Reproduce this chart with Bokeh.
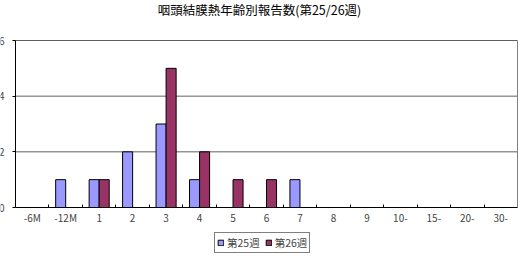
from bokeh.plotting import figure
from bokeh.models import ColumnDataSource, FixedTicker, Range1d, Legend, LegendItem, Label
from bokeh.embed import file_html
from bokeh.resources import INLINE

categories = ["-6M", "-12M", "1", "2", "3", "4", "5", "6", "7", "8", "9", "10-", "15-", "20-", "30-"]
week25 = [0, 1, 1, 2, 3, 1, 0, 0, 1, 0, 0, 0, 0, 0, 0]
week26 = [0, 0, 1, 0, 5, 2, 1, 1, 0, 0, 0, 0, 0, 0, 0]
series_names = ["第25週", "第26週"]
y_ticks = [0, 2, 4, 6]
title_text = "咽頭結膜熱年齢別報告数(第25/26週)"

FONT = "Noto Sans CJK JP"
W, H = 518, 261
n = len(categories)
ymax = y_ticks[-1]
centers = [i + 0.5 for i in range(n)]

# plot area in pixels: x 15..517, y 40..207 (from top)
px_left, px_right, px_top, px_bottom = 15, 517, 40, 207
sx = (px_right - px_left) / n
sy = (px_bottom - px_top) / ymax
x_range = Range1d(-px_left / sx, n + (W - px_right) / sx)
y_range = Range1d(-(H - px_bottom) / sy, ymax + px_top / sy)

p = figure(width=W, height=H, output_backend="svg", toolbar_location=None,
           x_range=x_range, y_range=y_range, min_border=0,
           min_border_left=0, min_border_right=0, min_border_top=0, min_border_bottom=0)
p.outline_line_color = None
p.xgrid.grid_line_color = None
p.ygrid.grid_line_color = None

# grid lines and right border of the plot area
p.segment(x0=[0] * len(y_ticks[1:]), x1=[n] * len(y_ticks[1:]), y0=y_ticks[1:], y1=y_ticks[1:],
          line_color="#606060", line_width=1)
p.segment(x0=[n], x1=[n], y0=[0], y1=[ymax], line_color="#808080", line_width=1)

def src(vals, shift):
    xs = [c + shift for c, v in zip(centers, vals) if v > 0]
    ys = [v for v in vals if v > 0]
    return ColumnDataSource(dict(x=xs, top=ys))

r25 = p.vbar(x="x", top="top", width=0.3, bottom=0, source=src(week25, -0.15),
             fill_color="#9999FF", line_color="black", line_width=1)
r26 = p.vbar(x="x", top="top", width=0.3, bottom=0, source=src(week26, 0.15),
             fill_color="#993366", line_color="black", line_width=1)

xa = p.xaxis[0]
xa.fixed_location = 0
xa.bounds = (0, n)
xa.ticker = FixedTicker(ticks=centers, minor_ticks=list(range(1, n)))
xa.major_label_overrides = {c: lab for c, lab in zip(centers, categories)}
xa.major_tick_in = 0
xa.major_tick_out = 0
xa.minor_tick_in = 3
xa.minor_tick_out = 0
xa.minor_tick_line_color = "black"
xa.axis_line_color = "black"
xa.major_label_text_font = FONT
xa.major_label_text_font_size = "10px"
xa.major_label_standoff = 2

ya = p.yaxis[0]
ya.fixed_location = 0
ya.bounds = (0, ymax)
ya.ticker = FixedTicker(ticks=y_ticks)
ya.major_tick_in = 0
ya.major_tick_out = 3
ya.minor_tick_line_color = None
ya.axis_line_color = "black"
ya.major_tick_line_color = "black"
ya.major_label_text_font = FONT
ya.major_label_text_font_size = "10px"
ya.major_label_standoff = 8

p.add_layout(Label(x=W / 2, y=H - 9, x_units="screen", y_units="screen", text=title_text,
                   text_font=FONT, text_font_size="12.5px", text_align="center",
                   text_baseline="middle", text_color="black"))

legend = Legend(items=[LegendItem(label=series_names[0], renderers=[r25]),
                       LegendItem(label=series_names[1], renderers=[r26])],
                location=(214, H - 253), orientation="horizontal",
                glyph_width=7, glyph_height=7, label_height=10, label_width=10,
                label_text_font=FONT, label_text_font_size="10.5px", label_standoff=3,
                padding=2, spacing=5, margin=0,
                border_line_color="black", border_line_width=1, background_fill_alpha=1)
p.add_layout(legend, "center")

open("out.html", "w").write(file_html(p, INLINE))
